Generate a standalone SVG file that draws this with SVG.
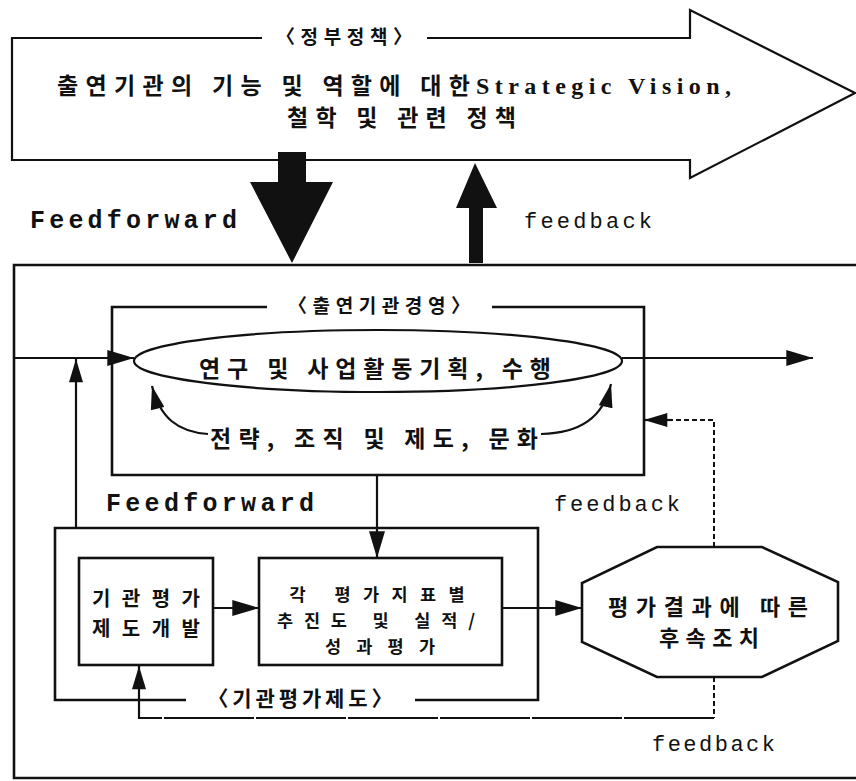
<svg xmlns="http://www.w3.org/2000/svg" width="856" height="781" viewBox="0 0 856 781">
  <style>
    .ln { fill: none; stroke: #111; stroke-width: 2.2; }
    .box { fill: none; stroke: #111; stroke-width: 2.6; }
    .dash { fill: none; stroke: #111; stroke-width: 2; stroke-dasharray: 5 3; }
    .ko { font-family: "Noto Sans CJK KR", "Noto Sans", sans-serif; font-weight: 700; fill: #111; }
    .en { font-family: "Liberation Mono", "DejaVu Sans Mono", monospace; font-weight: 700; fill: #111; }
    .fb { font-family: "Liberation Mono", "DejaVu Sans Mono", monospace; font-weight: 400; fill: #111; }
    .sf { font-family: "Liberation Serif", "DejaVu Serif", serif; font-weight: 700; fill: #111; }
    .solid { fill: #111; }
  </style>
  <defs>
    <marker id="head" viewBox="0 0 10 6" refX="10" refY="3" markerWidth="28" markerHeight="16" markerUnits="userSpaceOnUse" orient="auto">
      <path d="M0,0 L10,3 L0,6 Z" fill="#111"/>
    </marker>
    <marker id="headS" viewBox="0 0 10 6" refX="10" refY="3" markerWidth="24" markerHeight="14" markerUnits="userSpaceOnUse" orient="auto">
      <path d="M0,0 L10,3 L0,6 Z" fill="#111"/>
    </marker>
  </defs>

  <rect width="856" height="781" fill="#fff"/>

  <!-- government policy arrow -->
  <g id="policy">
    <path class="ln" d="M262,38 H12 V160 H690 V178 L855,93 L690,10 V38 H427" fill="#fff" stroke-width="2.4"/>
    <text class="ko" x="344" y="44" font-size="19" text-anchor="middle" textLength="136" lengthAdjust="spacing">〈정부정책〉</text>
    <text class="ko" x="57" y="94" font-size="23" textLength="413" lengthAdjust="spacing">출연기관의 기능 및 역할에 대한</text>
    <text class="sf" x="476" y="94" font-size="24" textLength="255" lengthAdjust="spacing">Strategic Vision,</text>
    <text class="ko" x="287" y="126" font-size="23" textLength="229" lengthAdjust="spacing">철학 및 관련 정책</text>
  </g>

  <!-- outer organisation frame -->
  <g id="frame">
    <path class="box" d="M858,265 H14 V778 H858"/>
  </g>

  <!-- institution management -->
  <g id="management">
    <path class="box" d="M267,307 H112 V475 H644 V307 H492"/>
    <text class="ko" x="379" y="313" font-size="19" text-anchor="middle" textLength="182" lengthAdjust="spacing">〈출연기관경영〉</text>
    <ellipse cx="378" cy="361" rx="244" ry="31" class="ln" fill="#fff"/>
    <text class="ko" x="199" y="377" font-size="23" textLength="352" lengthAdjust="spacing">연구 및 사업활동기획, 수행</text>
    <text class="ko" x="210" y="447" font-size="23" textLength="328" lengthAdjust="spacing">전략, 조직 및 제도, 문화</text>
  </g>

  <!-- evaluation system -->
  <g id="evaluation">
    <path class="box" d="M186,700 H55 V528 H538 V700 H415"/>
    <text class="ko" x="300" y="706" font-size="21" text-anchor="middle" textLength="185" lengthAdjust="spacing">〈기관평가제도〉</text>
  </g>

  <g id="dev">
    <rect class="box" x="79" y="558" width="134" height="107"/>
    <text class="ko" x="146" y="606" font-size="20" text-anchor="middle" textLength="108" lengthAdjust="spacing">기관평가</text>
    <text class="ko" x="146" y="636" font-size="20" text-anchor="middle" textLength="108" lengthAdjust="spacing">제도개발</text>
  </g>

  <g id="assess">
    <rect class="box" x="259" y="558" width="243" height="107"/>
    <text class="ko" x="377" y="601" font-size="17.5" text-anchor="middle" textLength="175" lengthAdjust="spacing">각 평가지표별</text>
    <text class="ko" x="376" y="627" font-size="17.5" text-anchor="middle" textLength="198" lengthAdjust="spacing">추진도 및 실적/</text>
    <text class="ko" x="380" y="653" font-size="17.5" text-anchor="middle" textLength="110" lengthAdjust="spacing">성과평가</text>
  </g>

  <g id="followup">
    <path class="box" d="M657,547 H762 L838,582 V641 L762,677 H657 L582,642 V583 Z" fill="#fff"/>
    <text class="ko" x="708" y="615" font-size="22" text-anchor="middle" textLength="200" lengthAdjust="spacing">평가결과에 따른</text>
    <text class="ko" x="709" y="646" font-size="22" text-anchor="middle" textLength="100" lengthAdjust="spacing">후속조치</text>
  </g>

  <!-- connectors -->
  <g id="connectors">
    <!-- feedforward / feedback between policy and organisation -->
    <path class="solid" d="M278,152 H306 V182 H333 L292,263 L250,182 H278 Z"/>
    <path class="solid" d="M469,263 V208 H456 L475,163 L497,208 H483 V263 Z"/>

    <!-- main flow through activities -->
    <path class="ln" d="M14,358 H134" marker-end="url(#head)"/>
    <path class="ln" d="M622,358 H813" marker-end="url(#head)"/>
    <path class="ln" d="M76,528 V359" marker-end="url(#headS)"/>

    <!-- strategy / organisation / culture support -->
    <path class="ln" d="M208,434 C178,432 160,418 152,386" marker-end="url(#headS)"/>
    <path class="ln" d="M541,434 C580,433 603,418 611,384" marker-end="url(#headS)"/>

    <!-- management to evaluation -->
    <path class="ln" d="M377,475 V558" marker-end="url(#head)"/>
    <path class="ln" d="M213,608 H259" marker-end="url(#head)"/>
    <path class="ln" d="M502,608 H582" marker-end="url(#head)"/>

    <!-- feedback loops -->
    <path class="dash" d="M714,547 V420 H660"/>
    <path class="ln" d="M672,420 H644" marker-end="url(#headS)"/>
    <path class="dash" d="M714,677 V718"/>
    <path class="ln" d="M714,718 H139 V666" stroke-dasharray="90 2" marker-end="url(#headS)"/>
  </g>

  <!-- loop labels -->
  <g id="labels">
    <text class="en" x="30" y="228" font-size="25" textLength="207" lengthAdjust="spacing">Feedforward</text>
    <text class="fb" x="524" y="228" font-size="22" textLength="128" lengthAdjust="spacing">feedback</text>
    <text class="en" x="106" y="511" font-size="25" textLength="208" lengthAdjust="spacing">Feedforward</text>
    <text class="fb" x="554" y="511" font-size="22" textLength="126" lengthAdjust="spacing">feedback</text>
    <text class="fb" x="652" y="751" font-size="22" textLength="123" lengthAdjust="spacing">feedback</text>
  </g>
</svg>
